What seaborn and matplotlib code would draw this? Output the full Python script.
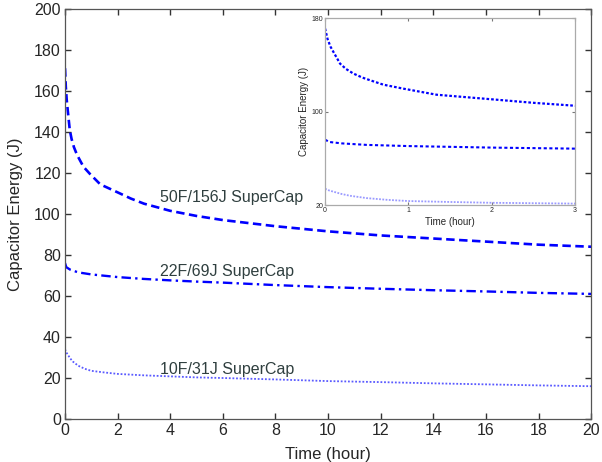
import matplotlib
matplotlib.use("Agg")
import matplotlib.pyplot as plt
import seaborn as sns
import pandas as pd

# ---- data ----
t_50 = [0, 0.03, 0.065, 0.1, 0.18, 0.25, 0.34, 0.45, 0.54, 0.7, 0.94, 1.34, 2, 2.5, 3, 4, 5, 6, 8, 10, 12, 14, 16, 18, 20]
e_50 = [171, 162, 155.5, 151, 141, 136.5, 132.5, 129, 126.8, 123, 119.6, 114.4, 110.5, 107.5, 105, 101.5, 99, 97, 94, 91.5, 89.5, 88, 86.5, 85, 84]

t_22 = [0, 0.05, 0.2, 0.5, 1, 2, 3, 4, 5, 6, 8, 10, 12, 14, 16, 18, 20]
e_22 = [76, 74, 72.8, 71.5, 70.5, 69.2, 68.3, 67.6, 67, 66.5, 65.3, 64.3, 63.5, 62.8, 62.2, 61.5, 61]

t_10 = [0, 0.05, 0.1, 0.2, 0.3, 0.5, 0.75, 1, 1.5, 2, 3, 4, 5, 6, 8, 10, 12, 14, 16, 18, 20]
e_10 = [34, 32.5, 31.5, 29.5, 28, 26, 24.5, 23.5, 22.7, 22, 21.3, 20.8, 20.3, 20, 19.3, 18.5, 18, 17.4, 16.9, 16.4, 16]

labels = ["50F/156J SuperCap", "22F/69J SuperCap", "10F/31J SuperCap"]
label_pos = [(3.6, 108), (3.6, 72), (3.6, 24)]

main_xticks = list(range(0, 21, 2))
main_yticks = list(range(0, 201, 20))
inset_xticks = [0, 1, 2, 3]
inset_yticks = [20, 100, 180]

sns.set_style("white")
plt.rcParams['font.family'] = ['Liberation Sans', 'DejaVu Sans']

df50 = pd.DataFrame({"t": t_50, "e": e_50})
df22 = pd.DataFrame({"t": t_22, "e": e_22})
df10 = pd.DataFrame({"t": t_10, "e": e_10})

fig = plt.figure(figsize=(6.02, 4.62), dpi=100)
ax = fig.add_axes([0.108, 0.093, 0.874, 0.888])

blue = "#0000ff"
light = "#5a5aff"
sns.lineplot(data=df50, x="t", y="e", ax=ax, color=blue, lw=1.9, linestyle=(0, (3.2, 1.7)), errorbar=None)
sns.lineplot(data=df22, x="t", y="e", ax=ax, color=blue, lw=1.7, linestyle=(0, (4, 1.8, 1, 1.8)), errorbar=None)
sns.lineplot(data=df10, x="t", y="e", ax=ax, color=light, lw=1.3, linestyle=(0, (1, 1)), errorbar=None)

ax.set_xlim(0, 20)
ax.set_ylim(0, 200)
ax.set_xticks(main_xticks)
ax.set_yticks(main_yticks)
ax.set_xlabel("Time (hour)", fontsize=12, labelpad=6)
ax.set_ylabel("Capacitor Energy (J)", fontsize=12, labelpad=8)
ax.tick_params(axis="both", which="major", labelsize=11.5, direction="in", length=4.5, width=1.0,
               top=True, right=True, bottom=True, left=True, color="#333333", pad=3)
for s in ax.spines.values():
    s.set_color("#555555")
    s.set_linewidth(0.9)

for txt, (x, y) in zip(labels, label_pos):
    ax.text(x, y, txt, fontsize=11.5, color="#2f3f3f", va="center", ha="left")

# ---- inset ----
ins = fig.add_axes([0.540, 0.556, 0.415, 0.405])
sns.lineplot(data=df50, x="t", y="e", ax=ins, color=blue, lw=1.6, linestyle=(0, (1.2, 0.9)), errorbar=None)
sns.lineplot(data=df22, x="t", y="e", ax=ins, color=blue, lw=1.5, linestyle=(0, (1.5, 1.2)), errorbar=None)
sns.lineplot(data=df10, x="t", y="e", ax=ins, color="#9a9aff", lw=1.3, linestyle=(0, (1, 0.8)), errorbar=None)
ins.set_xlim(0, 3)
ins.set_ylim(20, 180)
ins.set_xticks(inset_xticks)
ins.set_yticks(inset_yticks)
ins.set_xlabel("Time (hour)", fontsize=7, labelpad=2)
ins.set_ylabel("Capacitor Energy (J)", fontsize=7, labelpad=2)
ins.tick_params(axis="both", which="major", labelsize=5, direction="in", length=2.5, width=0.8,
                top=True, right=True, bottom=True, left=True, color="#777777", pad=1.5)
for s in ins.spines.values():
    s.set_color("#aaaaaa")
    s.set_linewidth(0.9)

fig.savefig("out.png", dpi=100)
